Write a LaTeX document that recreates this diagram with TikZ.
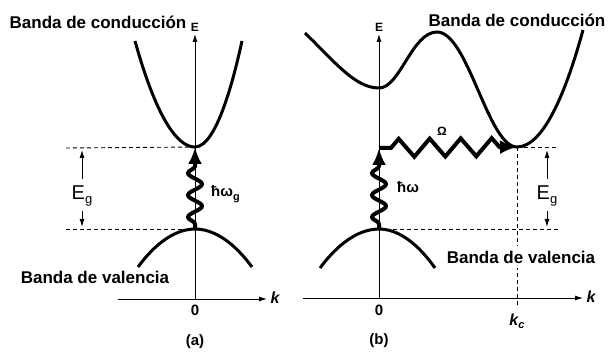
\documentclass[tikz,border=0pt]{standalone}
\usepackage{fontspec}
\setmainfont{Liberation Sans}
\usetikzlibrary{positioning,arrows.meta,decorations.pathmorphing}

\begin{document}
\begin{tikzpicture}[x=1pt,y=-1pt,
  band/.style={line width=3pt},
  axis/.style={line width=0.9pt,-{Latex[length=8pt,width=5pt]}},
  guide/.style={line width=0.9pt,dash pattern=on 4pt off 3pt},
  gaparrow/.style={line width=0.9pt,-{Latex[length=8pt,width=5pt]}},
  photon/.style={line width=4pt,-{Latex[length=17pt,width=14pt]},decorate,
    decoration={snake,amplitude=7pt,segment length=22pt,pre length=5pt,post length=13pt}},
  phonon/.style={line width=4pt,-{Latex[length=17pt,width=14pt]},decorate,
    decoration={zigzag,amplitude=9pt,segment length=31pt,pre length=12pt,post length=16pt}},
  bandlabel/.style={font=\fontsize{17}{20}\selectfont\bfseries,inner sep=1pt},
  small/.style={font=\fontsize{12}{14}\selectfont\bfseries,inner sep=1pt},
  tick/.style={font=\fontsize{15}{17}\selectfont\bfseries,inner sep=1pt},
  gaplabel/.style={font=\fontsize{20}{22}\selectfont,inner sep=1pt}]
\useasboundingbox (0,0) rectangle (611,355);

\coordinate (o1) at (195,299);
\coordinate (cmin1) at (195,147);
\coordinate (vmax1) at (195,229);
\coordinate (o2) at (379,299);
\coordinate (cmid2) at (379,88);
\coordinate (cmin2) at (517,147);
\coordinate (vmax2) at (379,229);
\coordinate (top2) at (379,148);

\draw[axis] (118,299) -- (267,299);
\draw[axis] (o1) -- (195,34) node[small,above=1pt] (e1) {E};
\node[tick,below=5pt] (zero1) at (o1) {0};
\node[tick,font=\fontsize{16}{18}\selectfont\bfseries\itshape] (k1) at (275,298) {k};
\node[tick] (lab1) at (195,342) {(a)};

\draw[band] (135,41) parabola bend (cmin1) (242,41);
\draw[band] (138,267) parabola bend (vmax1) (252,267);
\draw[guide] (66,148) -- (cmin1);
\draw[guide] (66,229) -- (vmax1);
\node[gaplabel] (eg1) at (82,196) {E\raisebox{-4pt}{\fontsize{13}{13}\selectfont g}};
\draw[gaparrow] (eg1.north) ++(0,-6) -- (82,150);
\draw[gaparrow] (eg1.south) ++(0,4) -- (82,227);
\draw[photon] (vmax1) -- (cmin1);
\node[tick,anchor=west] (hw1) at (210,194) {ħω\raisebox{-4pt}{\fontsize{11}{11}\selectfont g}};
\node[bandlabel] (cb1) at (98,22) {Banda de conducción};
\node[bandlabel] (vb1) at (95,277) {Banda de valencia};

\draw[axis] (303,298) -- (583,298);
\draw[axis] (o2) -- (379,34) node[small,above=1pt] (e2) {E};
\node[tick,below=5pt] (zero2) at (o2) {0};
\node[tick,font=\fontsize{16}{18}\selectfont\bfseries\itshape] (k2) at (591,297) {k};
\node[tick] (lab2) at (379,341) {(b)};

\draw[band] (305,33) .. controls (335,62) and (355,88) .. (cmid2)
  .. controls (400,88) and (412,32) .. (437,32)
  .. controls (468,32) and (488,147) .. (cmin2)
  .. controls (545,147) and (568,85) .. (583,30);
\draw[band] (320,268) parabola bend (vmax2) (435,268);
\draw[guide] (cmin2) -- (558,147);
\draw[guide] (vmax2) -- (558,229);
\draw[guide] (cmin2) -- (517,307);
\node[gaplabel] (eg2) at (547,196) {E\raisebox{-4pt}{\fontsize{13}{13}\selectfont g}};
\draw[gaparrow] (eg2.north) ++(0,-6) -- (547,150);
\draw[gaparrow] (eg2.south) ++(0,4) -- (547,227);
\draw[photon] (vmax2) -- (top2);
\draw[phonon] (top2) -- (cmin2);
\node[small] (om) at (442,131) {Ω};
\node[tick,anchor=west] (hw2) at (396,187) {ħω};
\node[tick,font=\fontsize{16}{18}\selectfont\bfseries\itshape] (kc) at (517,321) {k\raisebox{-3pt}{\fontsize{11}{11}\selectfont c}};
\node[bandlabel] (cb2) at (517,20) {Banda de conducción};
\node[bandlabel,fill=white,inner sep=5pt] (vb2) at (521,257) {Banda de valencia};
\end{tikzpicture}
\end{document}
